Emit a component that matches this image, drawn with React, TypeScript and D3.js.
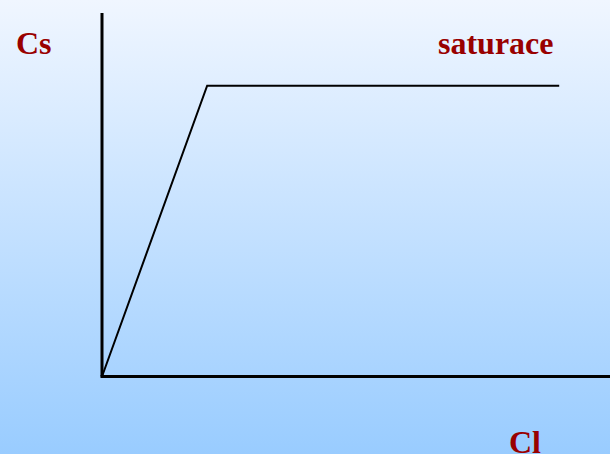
import React from "react";
import * as d3 from "d3";

const clValues = [0, 2.07, 9];
const csValues = [0, 8, 8];
const axisLabels = { y: "Cs", x: "Cl", note: "saturace" };

const W = 610;
const H = 454;

export default function App() {
  const x = d3.scaleLinear().domain([0, 10]).range([102, 610]);
  const y = d3.scaleLinear().domain([0, 10]).range([376.5, 13]);
  const pts: [number, number][] = clValues.map((c, i) => [c, csValues[i]]);
  const line = d3
    .line<[number, number]>()
    .x((d) => x(d[0]))
    .y((d) => y(d[1]));
  const textStyle = {
    fontFamily: "'Liberation Serif', 'Times New Roman', serif",
    fontWeight: 700,
    fontSize: 32,
    fill: "#990000",
  } as const;
  return (
    <div style={{ position: "fixed", left: 0, top: 0, width: W, height: H }}>
      <svg width={W} height={H} style={{ display: "block" }}>
        <defs>
          <linearGradient id="bg" x1="0" y1="0" x2="0" y2="1">
            <stop offset="0" stopColor="#f0f6ff" />
            <stop offset="1" stopColor="#99ccff" />
          </linearGradient>
        </defs>
        <rect x={0} y={0} width={W} height={H} fill="url(#bg)" />
        <line x1={x(0)} x2={x(0)} y1={y(10)} y2={y(0)} stroke="#000" strokeWidth={3} />
        <line x1={x(0) - 1.5} x2={x(10)} y1={y(0)} y2={y(0)} stroke="#000" strokeWidth={3} />
        <path d={line(pts) || ""} fill="none" stroke="#000" strokeWidth={2} />
        <text x={16} y={54} style={textStyle}>{axisLabels.y}</text>
        <text x={438} y={54} style={textStyle}>{axisLabels.note}</text>
        <text x={509} y={453} style={textStyle}>{axisLabels.x}</text>
      </svg>
    </div>
  );
}
